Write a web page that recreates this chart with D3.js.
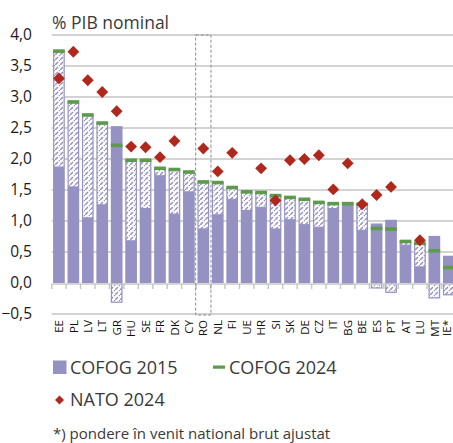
<!DOCTYPE html>
<html><head><meta charset="utf-8">
<script src="https://cdn.jsdelivr.net/npm/d3@7"></script>
<style>
html,body{margin:0;padding:0;background:#fff;}
svg{display:block;font-family:"Open Sans",sans-serif;}
</style></head>
<body>
<svg id="c" width="453" height="443"></svg>
<script>
const categories = ["EE","PL","LV","LT","GR","HU","SE","FR","DK","CY","RO","NL","FI","UE","HR","SI","SK","DE","CZ","IT","BG","BE","ES","PT","AT","LU","MT","IE*"];
const cofog2015 = [1.87,1.55,1.05,1.26,2.53,0.68,1.20,1.73,1.11,1.47,0.87,1.10,1.35,1.17,1.22,0.87,1.02,0.94,0.90,1.20,1.30,0.85,0.96,1.02,0.61,0.26,0.76,0.44];
const cofog2024 = [3.74,2.92,2.71,2.58,2.22,1.98,1.98,1.85,1.83,1.79,1.63,1.62,1.54,1.47,1.46,1.41,1.38,1.35,1.30,1.28,1.28,1.27,0.88,0.87,0.67,0.64,0.52,0.25];
const nato2024 = [3.30,3.73,3.27,3.08,2.77,2.20,2.19,2.03,2.29,null,2.17,1.80,2.10,null,1.85,1.33,1.98,2.00,2.06,1.51,1.93,1.27,1.42,1.55,null,0.69,null,null];
const yTicks = [-0.5,0,0.5,1,1.5,2,2.5,3,3.5,4];
const highlight = "RO";

const PURPLE = "#9591c3", GREEN = "#5b9b4a", RED = "#b0281c", GRID = "#d3d3d3", TXT = "#3a3a3a";
const svg = d3.select("#c");

const x = d3.scaleBand().domain(categories).range([51.7, 51.7 + 28*14.44]).paddingInner(0.19).paddingOuter(0.095);
const y = d3.scaleLinear().domain([-0.5, 4]).range([314, 35]);

// hatch pattern
const defs = svg.append("defs");
const pat = defs.append("pattern").attr("id","hatch").attr("patternUnits","userSpaceOnUse")
  .attr("width",5).attr("height",5);
pat.append("rect").attr("width",5).attr("height",5).attr("fill","#fff");
pat.append("path").attr("d","M0,5 L3,2 M4,1 L5,0").attr("stroke",PURPLE).attr("stroke-width",1.5).attr("fill","none");

// gridlines
svg.append("g").selectAll("line").data(yTicks.filter(d=>d!==0)).join("line")
  .attr("x1",51.7).attr("x2",453).attr("y1",d=>y(d)).attr("y2",d=>y(d))
  .attr("stroke",GRID).attr("stroke-width",1.8);

// y labels
svg.append("g").selectAll("text").data(yTicks).join("text")
  .attr("x",32).attr("y",d=>y(d)).attr("dy","0.35em").attr("text-anchor","end")
  .attr("font-size",15.5).attr("fill","#1a1a1a")
  .text(d=>d3.format(".1f")(d).replace(".",","));

// title
svg.append("text").attr("x",52).attr("y",29).attr("font-size",17.5).attr("fill",TXT).text("% PIB nominal");

// solid bars (2015)
svg.append("g").selectAll("rect").data(categories).join("rect")
  .attr("x",d=>x(d)).attr("width",x.bandwidth())
  .attr("y",(d,i)=>y(cofog2015[i])).attr("height",(d,i)=>y(0)-y(cofog2015[i]))
  .attr("fill",PURPLE);

// hatched change bars (stacked, Excel style)
const diffs = categories.map((d,i)=>({c:d, d:+(cofog2024[i]-cofog2015[i]).toFixed(3), base:cofog2015[i]}));
svg.append("g").selectAll("rect").data(diffs.filter(o=>Math.abs(o.d)>0.005)).join("rect")
  .attr("x",o=>x(o.c)+0.6).attr("width",x.bandwidth()-1.2)
  .attr("y",o=> o.d>0 ? y(o.base+o.d) : y(0))
  .attr("height",o=> o.d>0 ? y(o.base)-y(o.base+o.d) : y(o.d)-y(0))
  .attr("fill","url(#hatch)").attr("stroke",PURPLE).attr("stroke-width",1.2);

// x axis line and ticks
svg.append("line").attr("x1",51.7).attr("x2",453).attr("y1",y(0)+1).attr("y2",y(0)+1)
  .attr("stroke","#c8c8c8").attr("stroke-width",1.5);
svg.append("g").selectAll("line").data(d3.range(categories.length+1)).join("line")
  .attr("x1",i=>51.7+i*x.step()).attr("x2",i=>51.7+i*x.step())
  .attr("y1",y(0)+1).attr("y2",y(0)+6).attr("stroke","#c8c8c8").attr("stroke-width",1.5);

// green markers (2024)
svg.append("g").selectAll("rect").data(categories).join("rect")
  .attr("x",d=>x(d)).attr("width",x.bandwidth())
  .attr("y",(d,i)=>y(cofog2024[i])-1.8).attr("height",3.6)
  .attr("fill",GREEN);

// NATO diamonds
const sym = d3.symbol().type(d3.symbolSquare).size(70);
svg.append("g").selectAll("path").data(categories.map((c,i)=>({c,v:nato2024[i]})).filter(o=>o.v!=null)).join("path")
  .attr("d",sym)
  .attr("transform",o=>`translate(${x(o.c)+x.bandwidth()/2},${y(o.v)}) rotate(45)`)
  .attr("fill",RED);

// highlight box
svg.append("rect").attr("x",x(highlight)-1.8).attr("width",x.bandwidth()+3.6)
  .attr("y",y(4)).attr("height",y(-0.5)-y(4)+1)
  .attr("fill","none").attr("stroke","#8a8a8a").attr("stroke-width",1).attr("stroke-dasharray","3,2");

// x labels
svg.append("g").selectAll("text").data(categories).join("text")
  .attr("transform",d=>`translate(${Math.min(x(d)+x.bandwidth()/2, 446.5)},320) rotate(-90)`)
  .attr("text-anchor","end").attr("dy","0.36em")
  .attr("font-size",11.5).attr("fill","#111").text(d=>d);

// legend
const lg = svg.append("g").attr("fill",TXT).attr("font-size",18);
lg.append("rect").attr("x",53).attr("y",360.5).attr("width",13.5).attr("height",13.5).attr("fill",PURPLE);
lg.append("text").attr("x",70).attr("y",374).text("COFOG 2015");
lg.append("rect").attr("x",213).attr("y",365.5).attr("width",12).attr("height",3.2).attr("fill",GREEN);
lg.append("text").attr("x",229).attr("y",374).text("COFOG 2024");
lg.append("path").attr("d",d3.symbol().type(d3.symbolSquare).size(40)).attr("transform","translate(59.5,400) rotate(45)").attr("fill",RED);
lg.append("text").attr("x",70).attr("y",405.5).text("NATO 2024");

svg.append("text").attr("x",53).attr("y",439).attr("font-size",15).attr("fill",TXT)
  .text("*) pondere în venit national brut ajustat");
</script>
</body></html>
